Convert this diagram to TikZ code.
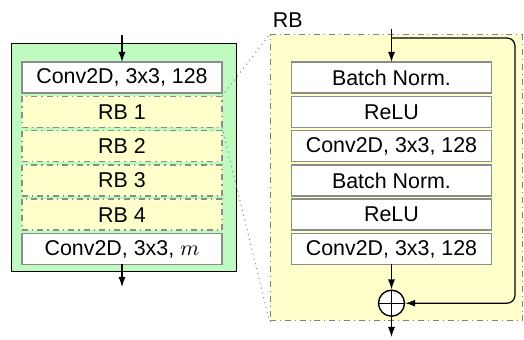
\documentclass[tikz,border=0pt]{standalone}
\usepackage{fontspec}
\setmainfont{Liberation Sans}
\usetikzlibrary{arrows.meta, positioning, calc}
\definecolor{NetGreen}{RGB}{191,250,191}
\definecolor{RBYellow}{RGB}{255,255,204}
\definecolor{BoxGrey}{RGB}{140,140,140}

\begin{document}
\begin{tikzpicture}[x=0.5pt, y=-0.5pt,
    font=\fontsize{10.7}{12}\selectfont,
    layer/.style={draw=BoxGrey, line width=0.7pt, fill=white, minimum width=100pt, minimum height=15.5pt, inner sep=0pt, outer sep=0pt},
    rblock/.style={layer, fill=RBYellow, dash dot},
    flow/.style={-{Latex[length=5pt, width=3.5pt]}, line width=0.6pt},
    node distance=1.65pt]
    \useasboundingbox (0,0) rectangle (524,340);
    % frames
    \node[draw=black, line width=0.5pt, fill=NetGreen, minimum width=112.5pt, minimum height=114pt, inner sep=0pt] (net) at (123.5,158) {};
    \node[draw=gray, dash dot, line width=0.5pt, fill=RBYellow, minimum width=126pt, minimum height=143pt, inner sep=0pt] (rb) at (396,178) {};
    \node[anchor=south west, inner sep=0pt] (rbname) at ([xshift=1.5pt, yshift=3.5pt]rb.north west) {RB};
    % network
    \node[layer] (conv1) at (122,77.5) {Conv2D, 3x3, 128};
    \node[rblock, below=of conv1] (rb1) {RB 1};
    \node[rblock, below=of rb1] (rb2) {RB 2};
    \node[rblock, below=of rb2] (rb3) {RB 3};
    \node[rblock, below=of rb3] (rb4) {RB 4};
    \node[layer, below=of rb4] (convm) {Conv2D, 3x3, $m$};
    \coordinate (netin) at (122,35);
    \coordinate (netout) at (122,287);
    \draw[flow] (netin) -- (conv1);
    \draw[flow] (convm) -- (netout);
    % zoom lines
    \draw[dotted, gray, line width=0.5pt] (rb1.north east) -- (rb.north west);
    \draw[dotted, gray, line width=0.5pt] (rb1.south east) -- (rb.south west);
    % residual block
    \node[layer] (bn1) at (391.5,77.5) {Batch Norm.};
    \node[layer, below=of bn1] (relu1) {ReLU};
    \node[layer, below=of relu1] (conv2) {Conv2D, 3x3, 128};
    \node[layer, below=of conv2] (bn2) {Batch Norm.};
    \node[layer, below=of bn2] (relu2) {ReLU};
    \node[layer, below=of relu2] (conv3) {Conv2D, 3x3, 128};
    \node[circle, draw, line width=0.7pt, fill=white, minimum size=13pt, inner sep=0pt, below=12.5pt of conv3,
          path picture={\draw[line width=0.6pt] (path picture bounding box.north) -- (path picture bounding box.south)
                        (path picture bounding box.west) -- (path picture bounding box.east);}] (add) {};
    \coordinate (rbin) at (391.5,29);
    \coordinate (rbout) at (391.5,337);
    \coordinate (skip) at (515,38);
    \draw[flow] (rbin) -- (bn1);
    \draw[flow, rounded corners=4pt] (bn1.north |- skip) -- (skip) |- (add);
    \draw[flow] (conv3) -- (add);
    \draw[flow] (add) -- (rbout);
\end{tikzpicture}
\end{document}
